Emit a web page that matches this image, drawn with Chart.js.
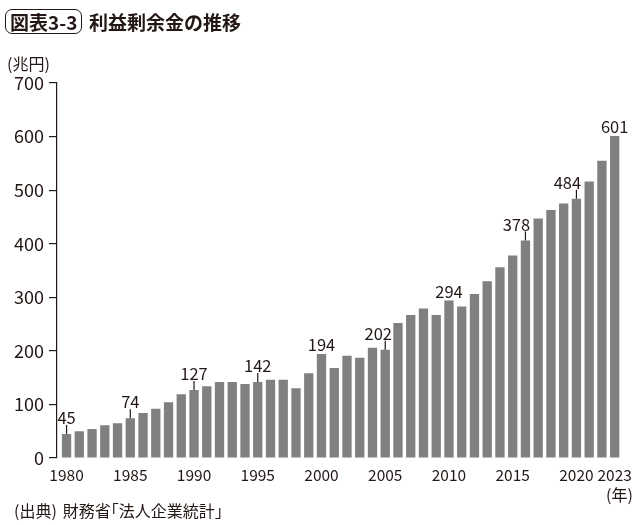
<!DOCTYPE html>
<html>
<head>
<meta charset="utf-8">
<script src="https://cdn.jsdelivr.net/npm/chart.js@4.4.1/dist/chart.umd.min.js"></script>
<style>
  html, body { margin: 0; padding: 0; background: #fff; }
  body { width: 640px; height: 525px; position: relative; overflow: hidden;
         font-family: "Noto Sans CJK JP", "Noto Sans", sans-serif; color: #231815; }
  #wrap { position: absolute; left: 0; top: 0; width: 640px; height: 525px; }
  .t { position: absolute; white-space: nowrap; }
  #box { left: 5px; top: 9px; height: 23px; line-height: 23px; padding: 0 4px;
         border: 1.6px solid #231815; border-radius: 7px; font-size: 19px; font-weight: 700; }
  #ttl { left: 89px; top: 9px; line-height: 25px; font-size: 19px; font-weight: 700; }
  #unit { left: 7px; top: 52px; font-size: 16px; line-height: 22px; }
  #src { left: 14px; top: 499px; font-size: 16px; line-height: 22px; }
  #src .b { margin-left: 6px; }
  #nen { left: 606px; top: 483px; font-size: 16px; line-height: 22px; }
</style>
</head>
<body>
<div id="wrap"><canvas id="c" width="640" height="525"></canvas></div>
<div class="t" id="box">図表3-3</div>
<div class="t" id="ttl">利益剰余金の推移</div>
<div class="t" id="unit">(兆円)</div>
<div class="t" id="nen">(年)</div>
<div class="t" id="src"><span>(出典)</span><span class="b">財務省｢法人企業統計｣</span></div>
<script>
const years = [1980,1981,1982,1983,1984,1985,1986,1987,1988,1989,
               1990,1991,1992,1993,1994,1995,1996,1997,1998,1999,
               2000,2001,2002,2003,2004,2005,2006,2007,2008,2009,
               2010,2011,2012,2013,2014,2015,2016,2017,2018,2019,
               2020,2021,2022,2023];
const values = [45,50,54,61,65,74,84,92,104,119,
                127,134,142,142,138,142,146,146,130,158,
                194,168,191,187,206,202,252,267,279,267,
                294,283,306,330,356,378,406,447,463,475,
                484,516,555,601];
const xTickYears = [1980,1985,1990,1995,2000,2005,2010,2015,2020,2023];
const yTicks = [0,100,200,300,400,500,600,700];
const annYears = [1980,1985,1990,1995,2000,2005,2010,2016,2020,2023];
const annTexts = ['45','74','127','142','194','202','294','378','484','601'];

const INK = '#231815';

const labelPlugin = {
  id: 'barLabels',
  afterDatasetsDraw(chart, args, opts) {
    const ctx = chart.ctx;
    const meta = chart.getDatasetMeta(0);
    ctx.save();
    ctx.font = '16.5px "Noto Sans CJK JP"';
    ctx.fillStyle = INK;
    ctx.strokeStyle = INK;
    ctx.lineWidth = 1.2;
    ctx.textAlign = 'center';
    ctx.textBaseline = 'alphabetic';
    annYears.forEach((yr, k) => {
      const i = years.indexOf(yr);
      const el = meta.data[i];
      const x = el.x, top = el.y;
      let base = top - 3;
      if (opts.tickYears.includes(yr)) {
        ctx.beginPath();
        ctx.moveTo(x, top);
        ctx.lineTo(x, top - opts.tickLen);
        ctx.stroke();
        base = top - opts.tickLen - 1;
      }
      ctx.fillText(annTexts[k], x + (opts.dx[yr] || 0), base);
    });
    ctx.restore();
  }
};

new Chart(document.getElementById('c'), {
  type: 'bar',
  data: {
    datasets: [{
      data: years.map((y, i) => ({ x: y, y: values[i] })),
      backgroundColor: '#808080',
      borderWidth: 0,
      categoryPercentage: 1.0,
      barPercentage: 0.73
    }]
  },
  options: {
    responsive: false,
    animation: false,
    devicePixelRatio: 1,
    layout: { padding: { left: 0, top: 83, right: 10, bottom: 0 } },
    plugins: {
      legend: { display: false },
      tooltip: { enabled: false },
      title: { display: false },
      barLabels: {
        tickYears: [1980,1985,1990,1995,2005,2016,2020],
        tickLen: 9,
        dx: { 2005: -7, 2016: -9, 2020: -9 }
      }
    },
    scales: {
      x: {
        type: 'linear',
        min: 1979.25,
        max: 2023.55,
        offset: false,
        afterBuildTicks: (s) => { s.ticks = xTickYears.map(v => ({ value: v })); },
        afterFit: (s) => { s.height = 67; },
        grid: { display: false, drawTicks: false },
        border: { display: false },
        ticks: {
          autoSkip: false, maxRotation: 0, minRotation: 0,
          padding: 8,
          color: INK,
          font: { family: '"Noto Sans CJK JP"', size: 15.5 },
          callback: (v) => String(v)
        }
      },
      y: {
        min: 0, max: 700,
        afterBuildTicks: (s) => { s.ticks = yTicks.map(v => ({ value: v })); },
        afterFit: (s) => { s.width = 57; },
        grid: { display: true, drawOnChartArea: false, drawTicks: true, tickLength: 8, color: INK, lineWidth: 1.2 },
        border: { display: true, color: INK, width: 1.2 },
        ticks: {
          padding: 5,
          color: INK,
          font: { family: '"Noto Sans CJK JP"', size: 18 }
        }
      }
    }
  },
  plugins: [labelPlugin]
});
</script>
</body>
</html>
